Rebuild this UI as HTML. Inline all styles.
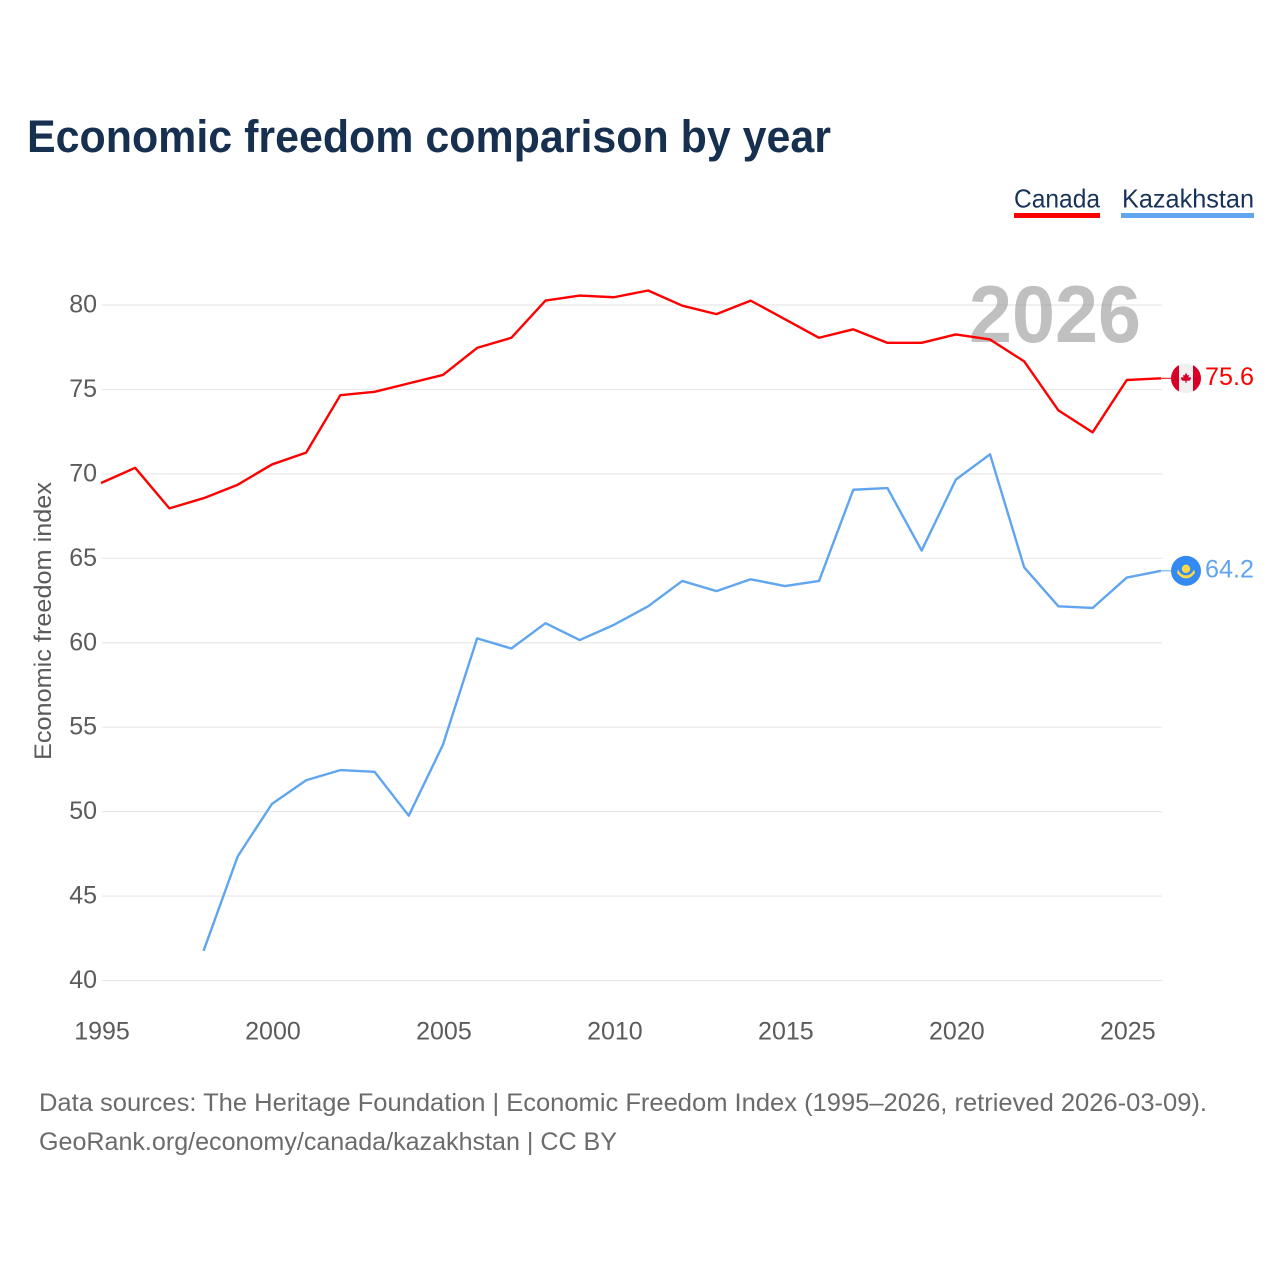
<!DOCTYPE html>
<html lang="en">
<head>
<meta charset="utf-8">
<title>Economic freedom comparison by year</title>
<style>
html,body{margin:0;padding:0;background:#fff;width:1280px;height:1280px;overflow:hidden}
svg{display:block}
text{font-family:"Liberation Sans",sans-serif}
</style>
</head>
<body>
<svg id="chart" xmlns="http://www.w3.org/2000/svg" width="1280" height="1280" viewBox="0 0 1280 1280">
  <rect width="1280" height="1280" fill="#fff"/>
  <text x="27" y="152" font-size="45" font-weight="700" fill="#18304f" textLength="804" lengthAdjust="spacingAndGlyphs">Economic freedom comparison by year</text>

  <g>
    <text x="1014" y="207.5" font-size="26" fill="#18335a" textLength="86" lengthAdjust="spacingAndGlyphs">Canada</text>
    <rect x="1014" y="213" width="86" height="5" fill="#ff0000"/>
  </g>
  <g>
    <text x="1122" y="207.5" font-size="26" fill="#18335a" textLength="132" lengthAdjust="spacingAndGlyphs">Kazakhstan</text>
    <rect x="1121" y="213" width="133" height="5" fill="#60a5ee"/>
  </g>

  <g id="grid"></g>
  <g id="yticks"></g>
  <g id="xticks"></g>

  <text transform="translate(51,760) rotate(-90)" font-size="24" fill="#5b5b5b" textLength="278" lengthAdjust="spacingAndGlyphs">Economic freedom index</text>

  <text x="969" y="342" font-size="81" font-weight="700" fill="#8c8c8c" fill-opacity="0.55" textLength="172" lengthAdjust="spacingAndGlyphs">2026</text>

  <g id="series"></g>

  <g id="flag-canada">
    <clipPath id="clip-ca"><circle id="clip-ca-circle" r="15"/></clipPath>
    <g id="flag-canada-inner" clip-path="url(#clip-ca)">
      <circle r="15" fill="#f0f0f0"/>
      <rect x="-15" y="-15" width="8" height="30" fill="#d80027"/>
      <rect x="7" y="-15" width="8" height="30" fill="#d80027"/>
      <path d="M0-5.5 1.5-2.8 3-3.4 2.5-.6 4.5-1.4 5 .6 3.5 2.5H.6V4.6H-.6V2.5H-3.5L-5 .6-4.5-1.4-2.5-.6-3-3.4-1.5-2.8Z" fill="#d80027"/>
    </g>
  </g>
  <g id="flag-kazakhstan">
    <circle r="15" fill="#338af3"/>
    <circle cx="0" cy="-2" r="4.2" fill="#ffda44"/>
    <path d="M-8-1.5C-6 3-3 4.5 0 4.5S6 3 8-1.5L9 2C6 6 3 7.5 0 7.5S-6 6-9 2Z" fill="#ffda44"/>
  </g>

  <g id="labels"></g>

  <text x="39" y="1111" font-size="25" fill="#6b6b6b" textLength="1168" lengthAdjust="spacingAndGlyphs">Data sources: The Heritage Foundation | Economic Freedom Index (1995–2026, retrieved 2026-03-09).</text>
  <text x="39" y="1150" font-size="25" fill="#6b6b6b" textLength="578" lengthAdjust="spacingAndGlyphs">GeoRank.org/economy/canada/kazakhstan | CC BY</text>
</svg>
<script>
var years = [1995,1996,1997,1998,1999,2000,2001,2002,2003,2004,2005,2006,2007,2008,2009,2010,2011,2012,2013,2014,2015,2016,2017,2018,2019,2020,2021,2022,2023,2024,2025,2026];
var canadaValues = [69.4,70.3,67.9,68.5,69.3,70.5,71.2,74.6,74.8,75.3,75.8,77.4,78.0,80.2,80.5,80.4,80.8,79.9,79.4,80.2,79.1,78.0,78.5,77.7,77.7,78.2,77.9,76.6,73.7,72.4,75.5,75.6];
var kazakhstanValues = [null,null,null,41.7,47.3,50.4,51.8,52.4,52.3,49.7,53.9,60.2,59.6,61.1,60.1,61.0,62.1,63.6,63.0,63.7,63.3,63.6,69.0,69.1,65.4,69.6,71.1,64.4,62.1,62.0,63.8,64.2];
var yTickValues = [40,45,50,55,60,65,70,75,80];
var xTickValues = [1995,2000,2005,2010,2015,2020,2025];

var NS = 'http://www.w3.org/2000/svg';
function xScale(year){ return 102 + (year - 1995) * (1162 - 102) / (2026 - 1995); }
function yScale(v){ return 980.5 - (v - 40) * (980.5 - 305) / (80 - 40); }
function markX(year){ return xScale(year) - 1; }
function markY(v){ return yScale(v) - 1; }
function make(tag, attrs, parent){
  var el = document.createElementNS(NS, tag);
  for (var k in attrs) el.setAttribute(k, attrs[k]);
  parent.appendChild(el);
  return el;
}
function pathFrom(values){
  var d = '';
  var started = false;
  values.forEach(function(v, i){
    if (v === null) return;
    d += (started ? 'L' : 'M') + markX(years[i]).toFixed(2) + ' ' + markY(v).toFixed(2);
    started = true;
  });
  return d;
}
function lastValue(values){ return values[values.length - 1]; }

var grid = document.getElementById('grid');
var yticks = document.getElementById('yticks');
yTickValues.forEach(function(v){
  var line = make('line', {x1: 102, x2: 1162, y1: yScale(v), y2: yScale(v), stroke: '#e8e8e8', 'stroke-width': 1.2}, grid);
  
  
  var t = make('text', {x: 97, y: yScale(v) + 7.5, 'text-anchor': 'end', 'font-size': 25, fill: '#5b5b5b'}, yticks);
  t.textContent = v;
  
  
});

var xticks = document.getElementById('xticks');
xTickValues.forEach(function(y){
  var t = make('text', {x: xScale(y), y: 1039.5, 'text-anchor': 'middle', 'font-size': 25, fill: '#5b5b5b'}, xticks);
  t.textContent = y;
  
  
});

var seriesGroup = document.getElementById('series');
var canadaLine = make('path', {d: pathFrom(canadaValues), fill: 'none', stroke: '#ff0000', 'stroke-width': 2.4, 'stroke-linejoin': 'round'}, seriesGroup);


var kazakhstanLine = make('path', {d: pathFrom(kazakhstanValues), fill: 'none', stroke: '#60a5ee', 'stroke-width': 2.4, 'stroke-linejoin': 'round'}, seriesGroup);



var canadaEndY = markY(lastValue(canadaValues));
var kazakhstanEndY = markY(lastValue(kazakhstanValues));
var canadaConnector = make('line', {x1: 1161, x2: 1172, y1: canadaEndY, y2: canadaEndY, stroke: '#ff0000', 'stroke-width': 1}, seriesGroup);


var kazakhstanConnector = make('line', {x1: 1161, x2: 1172, y1: kazakhstanEndY, y2: kazakhstanEndY, stroke: '#60a5ee', 'stroke-width': 1}, seriesGroup);



document.getElementById('clip-ca-circle').setAttribute('cx', 0);
document.getElementById('flag-canada').setAttribute('transform', 'translate(1186,' + canadaEndY + ')');
document.getElementById('flag-kazakhstan').setAttribute('transform', 'translate(1186,' + kazakhstanEndY + ')');

var labels = document.getElementById('labels');
var canadaLabel = make('text', {x: 1205, y: canadaEndY + 6.5, 'font-size': 25, fill: '#ff0000', textLength: 49, lengthAdjust: 'spacingAndGlyphs'}, labels);
canadaLabel.textContent = lastValue(canadaValues).toFixed(1);


var kazakhstanLabel = make('text', {x: 1205, y: kazakhstanEndY + 6.5, 'font-size': 25, fill: '#60a5ee', textLength: 49, lengthAdjust: 'spacingAndGlyphs'}, labels);
kazakhstanLabel.textContent = lastValue(kazakhstanValues).toFixed(1);


</script>
</body>
</html>
